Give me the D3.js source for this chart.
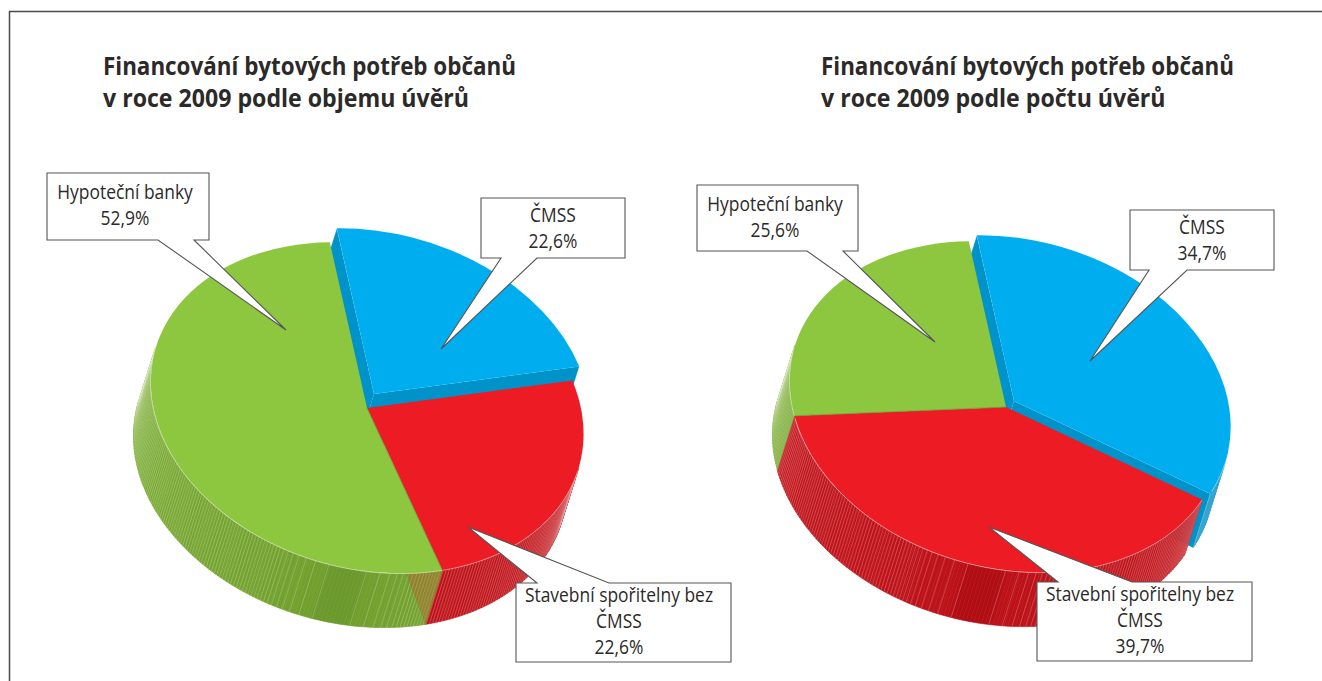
<!DOCTYPE html>
<html>
<head>
<meta charset="utf-8">
<script src="https://cdn.jsdelivr.net/npm/d3@7"></script>
<style>
    body { margin: 0; background: #fff; }
    text { font-family: "Open Sans", sans-serif; fill: #2b2a29; }
</style>
</head>
<body>
<div id="chart"></div>
<script>
// slices, clockwise from the top
const categories = ["ČMSS", "Stavební spořitelny bez ČMSS", "Hypoteční banky"];
// the red slice on the left is drawn about 24.5 wide although its label prints 22,6
const volumeValues = [22.6, 24.5, 52.9];
const volumeLabels = ["22,6%", "22,6%", "52,9%"];
const countValues = [34.7, 39.7, 25.6];
const countLabels = ["34,7%", "39,7%", "25,6%"];
const volumeTitle = ["Financování bytových potřeb občanů", "v roce 2009 podle objemu úvěrů"];
const countTitle = ["Financování bytových potřeb občanů", "v roce 2009 podle počtu úvěrů"];

const width = 1322, height = 681;
const rad = d3.scaleLinear().domain([0, 360]).range([0, 2 * Math.PI]);

// look of the pies
const rx = 220, ry = 161, tilt = 15;
const sweep = [-17, 54];
const startDeg = -21, darkDeg = 174;

const colors = {
    "ČMSS": { top: "#00aeef", wall: "#0093ca", stripes: false, shade: ["#0093ca", "#0093ca", "#1b9dcd", "#2aa0cf", "#3ba6d1", "#5cb4d8"] },
    "Stavební spořitelny bez ČMSS": { top: "#ed1c24", wall: "#b50f15", stripes: true, shade: ["#b00e14", "#b20e14", "#bd1219", "#c1141b", "#c4171d", "#cc3f45"] },
    "Hypoteční banky": { top: "#8dc63f", wall: "#6f9e2e", stripes: true, shade: ["#6b992b", "#6c9a2c", "#71a02e", "#78a832", "#7dae37", "#a4c772"] }
};
const shadeDomain = [0, 5, 6, 55, 85, 105];

const pies = [
    { values: volumeValues, labels: volumeLabels, title: volumeTitle, titleX: 103, cx: 367, cy: 408, popOut: [7, -14], seamWedge: true,
      callouts: [
        { box: [47, 173, 162, 67], base: [158, 194], tip: [286, 330], textX: 125, lines: [199, 225], cat: 2 },
        { box: [481, 198, 144, 60], base: [501, 537], tip: [441, 349], textX: 553, lines: [222, 248], cat: 0 },
        { box: [516, 583, 215, 79], base: [537, 609], tip: [468, 527], textX: 619, lines: [602, 628, 654], cat: 1, fromTop: true }
      ] },
    { values: countValues, labels: countLabels, title: countTitle, titleX: 821, cx: 1006, cy: 407, popOut: [8, -6], seamWedge: false,
      callouts: [
        { box: [697, 185, 161, 66], base: [807, 843], tip: [935, 342], textX: 775, lines: [211, 237], cat: 2 },
        { box: [1130, 210, 144, 60], base: [1149, 1187], tip: [1090, 361], textX: 1202, lines: [234, 260], cat: 0 },
        { box: [1037, 582, 215, 79], base: [1058, 1132], tip: [989, 527], textX: 1140, lines: [601, 627, 653], cat: 1, fromTop: true }
      ] }
];

const svg = d3.select("#chart").append("svg")
    .attr("width", width)
    .attr("height", height)
    .style("display", "block");

// frame, open to the right and at the bottom
svg.append("path")
    .attr("d", d3.line()([[9.5, height], [9.5, 11.5], [width, 11.5]]))
    .attr("fill", "none")
    .attr("stroke", "#4a4a4a")
    .attr("stroke-width", 1.5);

// point of the tilted ellipse for a d3.arc style angle
function project(a, cx, cy) {
    const t = rad(tilt);
    const x = rx * Math.sin(a), y = -ry * Math.cos(a);
    return [cx + x * Math.cos(t) - y * Math.sin(t), cy + x * Math.sin(t) + y * Math.cos(t)];
}

function isFacing(a) {
    const e = 0.001;
    const p0 = project(a - e, 0, 0), p1 = project(a + e, 0, 0);
    const tx = p1[0] - p0[0], ty = p1[1] - p0[1];
    // the curve runs clockwise, so the outward normal is (ty, -tx)
    return ty * sweep[0] - tx * sweep[1] > 0;
}

const moved = (p, d) => [p[0] + d[0], p[1] + d[1]];

// white hairlines of the side, wide apart next to the dark band and tighter further off
function stripeAngles() {
    const out = [];
    [1, -1].forEach(dir => {
        let deg = 5, k = 0;
        while (deg < 115) {
            out.push(rad(darkDeg + dir * deg));
            deg += Math.max(0.9, 3.6 / (1 + 0.4 * k));
            k++;
        }
    });
    return out;
}

function drawSide(g, slice, cx, cy) {
    const c = colors[slice.data.cat];
    const shade = d3.scaleLinear().domain(shadeDomain).range(c.shade).clamp(true);
    const step = rad(1);
    const quad = d3.line();

    for (let a = slice.startAngle; a < slice.endAngle; a += step) {
        const b = Math.min(a + step, slice.endAngle);
        const mid = (a + b) / 2;
        if (!isFacing(mid)) continue;
        const p = project(a, cx, cy), q = project(b, cx, cy);
        let dist = Math.abs(mid * 180 / Math.PI - darkDeg);
        dist = Math.min(dist, 360 - dist);
        g.append("path")
            .attr("d", quad([p, q, moved(q, sweep), moved(p, sweep)]) + "Z")
            .attr("fill", shade(dist))
            .attr("stroke", shade(dist))
            .attr("stroke-width", 0.6);
    }

    if (!c.stripes) return;
    stripeAngles().forEach(raw => {
        const a = raw < slice.startAngle ? raw + 2 * Math.PI : raw > slice.endAngle ? raw - 2 * Math.PI : raw;
        if (a < slice.startAngle || a > slice.endAngle || !isFacing(a)) return;
        const p = project(a, cx, cy);
        g.append("path")
            .attr("d", quad([p, moved(p, sweep)]))
            .attr("stroke", "#fff")
            .attr("stroke-opacity", 0.26)
            .attr("stroke-width", 0.8);
    });
}

function drawWalls(g, slice, cx, cy) {
    const line = d3.line();
    const apex = [cx, cy];
    [slice.startAngle, slice.endAngle].forEach(a => {
        const p = project(a, cx, cy);
        g.append("path")
            .attr("d", line([apex, p, moved(p, sweep), moved(apex, sweep)]) + "Z")
            .attr("fill", colors[slice.data.cat].wall);
        g.append("path")
            .attr("d", line([p, moved(p, sweep)]))
            .attr("stroke", "#fff")
            .attr("stroke-opacity", 0.3)
            .attr("stroke-width", 0.8);
    });
}

function drawTop(g, slice, cx, cy) {
    const arc = d3.arc().innerRadius(0).outerRadius(1);
    g.append("path")
        .attr("transform", `translate(${cx},${cy}) rotate(${tilt}) scale(${rx},${ry})`)
        .attr("d", arc(slice))
        .attr("fill", colors[slice.data.cat].top);

    // pale rim where the top meets the side
    const rim = d3.range(slice.startAngle, slice.endAngle, rad(1))
        .filter(isFacing)
        .map(a => project(a, cx, cy));
    g.append("path")
        .attr("d", d3.line()(rim))
        .attr("fill", "none")
        .attr("stroke", "#fff")
        .attr("stroke-opacity", 0.55)
        .attr("stroke-width", 0.8);
}

function drawCallout(g, c, label, pct) {
    const [x, y, w, h] = c.box;
    const b = y + h;
    const outline = c.fromTop
        ? [[x, y], [c.base[0], y], c.tip, [c.base[1], y], [x + w, y], [x + w, b], [x, b]]
        : [[x, y], [x + w, y], [x + w, b], [c.base[1], b], c.tip, [c.base[0], b], [x, b]];
    g.append("path")
        .attr("d", d3.line()(outline) + "Z")
        .attr("fill", "#fff")
        .attr("stroke", "#555")
        .attr("stroke-width", 1.1);

    // long labels wrap before the last word
    const rows = label.length > 20 ? ["Stavební spořitelny bez", "ČMSS", pct] : [label, pct];
    rows.forEach((row, i) => {
        g.append("text")
            .attr("x", c.textX)
            .attr("y", c.lines[i])
            .attr("text-anchor", "middle")
            .attr("font-size", 20.5)
            .text(row)
            .attr("lengthAdjust", "spacingAndGlyphs")
            .attr("textLength", function () { return this.getComputedTextLength() * 0.85; });
    });
}

const pieLayout = d3.pie()
    .value(d => d.value)
    .sort(null)
    .startAngle(rad(startDeg))
    .endAngle(rad(startDeg + 360));

const titleSqueeze = [0.896, 0.925];

pies.forEach(cfg => {
    const g = svg.append("g");
    const slices = pieLayout(categories.map((cat, i) => ({ cat: cat, value: cfg.values[i] })));
    const blue = slices[0], rest = slices.slice(1);
    const bx = cfg.cx + cfg.popOut[0], by = cfg.cy + cfg.popOut[1];

    // painter's order: the lifted slice first, its walls end up tucked under the others
    drawSide(g, blue, bx, by);
    drawWalls(g, blue, bx, by);
    rest.forEach(s => drawSide(g, s, cfg.cx, cfg.cy));

    if (cfg.seamWedge) {
        const a = slices[2].startAngle;
        const p = project(a, cfg.cx, cfg.cy);
        g.append("path")
            .attr("d", d3.line()([p, project(a + rad(10), cfg.cx, cfg.cy), moved(p, sweep)]) + "Z")
            .attr("fill", "#ed1c24")
            .attr("fill-opacity", 0.22);
    }

    rest.forEach(s => drawTop(g, s, cfg.cx, cfg.cy));
    const seamEnd = project(slices[2].startAngle, cfg.cx, cfg.cy);
    g.append("path")
        .attr("d", d3.line()([[cfg.cx, cfg.cy], seamEnd]))
        .attr("stroke", "#6fa03a")
        .attr("stroke-width", 0.9);
    drawTop(g, blue, bx, by);

    cfg.title.forEach((line, i) => {
        g.append("text")
            .attr("x", cfg.titleX)
            .attr("y", 75 + i * 32)
            .attr("font-size", 25)
            .attr("font-weight", 700)
            .text(line)
            .attr("lengthAdjust", "spacingAndGlyphs")
            .attr("textLength", function () { return this.getComputedTextLength() * titleSqueeze[i]; });
    });

    cfg.callouts.forEach(c => drawCallout(g, c, categories[c.cat], cfg.labels[c.cat]));
});
</script>
</body>
</html>
